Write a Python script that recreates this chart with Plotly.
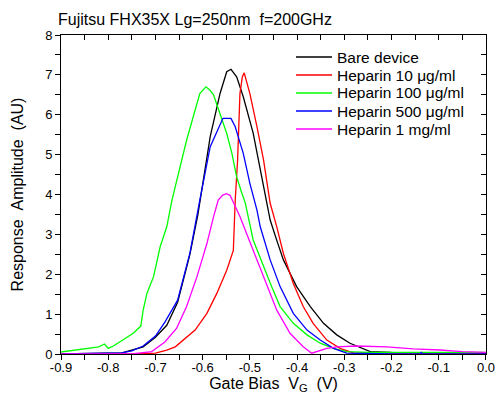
import plotly.graph_objects as go

bare_x = [-0.90, -0.80, -0.771, -0.726, -0.700, -0.676, -0.653, -0.627, -0.610, -0.584, -0.563, -0.549, -0.540, -0.528, -0.514, -0.493, -0.478, -0.465, -0.457, -0.443, -0.429, -0.401, -0.372, -0.344, -0.316, -0.288, -0.260, -0.245, -0.200, -0.100, 0.0]
bare_y = [0.0, 0.01, 0.03, 0.18, 0.42, 0.72, 1.30, 2.50, 3.50, 5.45, 6.54, 7.08, 7.14, 6.95, 6.45, 5.54, 4.60, 3.80, 3.36, 2.85, 2.36, 1.69, 1.19, 0.77, 0.48, 0.27, 0.12, 0.06, 0.04, 0.03, 0.03]

h10_x = [-0.90, -0.75, -0.700, -0.676, -0.658, -0.641, -0.616, -0.591, -0.570, -0.549, -0.535, -0.531, -0.526, -0.521, -0.516, -0.512, -0.500, -0.485, -0.471, -0.457, -0.443, -0.429, -0.408, -0.387, -0.366, -0.337, -0.309, -0.281, -0.200, 0.0]
h10_y = [0.0, 0.0, 0.02, 0.10, 0.18, 0.35, 0.60, 1.02, 1.52, 2.10, 2.60, 3.86, 4.86, 6.53, 6.95, 7.05, 6.53, 5.70, 4.86, 3.78, 3.19, 2.52, 1.77, 1.19, 0.77, 0.35, 0.14, 0.03, 0.02, 0.02]

h100_x = [-0.90, -0.856, -0.820, -0.808, -0.800, -0.789, -0.768, -0.747, -0.731, -0.726, -0.718, -0.704, -0.690, -0.676, -0.665, -0.648, -0.634, -0.620, -0.606, -0.593, -0.585, -0.577, -0.563, -0.549, -0.538, -0.528, -0.517, -0.510, -0.493, -0.471, -0.454, -0.436, -0.408, -0.379, -0.351, -0.323, -0.295, -0.250, -0.100, 0.0]
h100_y = [0.05, 0.12, 0.18, 0.25, 0.14, 0.20, 0.35, 0.52, 0.70, 1.10, 1.52, 1.94, 2.69, 3.19, 3.86, 4.69, 5.36, 5.95, 6.53, 6.70, 6.62, 6.50, 6.03, 5.53, 5.03, 4.44, 4.03, 3.80, 2.86, 2.19, 1.69, 1.19, 0.77, 0.48, 0.27, 0.14, 0.06, 0.04, 0.04, 0.04]

h500_x = [-0.90, -0.80, -0.771, -0.750, -0.726, -0.700, -0.680, -0.653, -0.627, -0.606, -0.584, -0.557, -0.540, -0.531, -0.514, -0.500, -0.485, -0.478, -0.457, -0.436, -0.408, -0.379, -0.351, -0.323, -0.295, -0.200, -0.140, -0.137, -0.134, 0.0]
h500_y = [0.0, 0.01, 0.03, 0.08, 0.20, 0.45, 0.80, 1.35, 2.53, 3.86, 5.20, 5.91, 5.91, 5.70, 5.03, 4.28, 3.61, 3.19, 2.36, 1.69, 1.02, 0.60, 0.35, 0.14, 0.02, 0.0, 0.0, 0.04, 0.0, 0.0]

h1m_x = [-0.90, -0.75, -0.708, -0.680, -0.655, -0.634, -0.612, -0.591, -0.577, -0.567, -0.558, -0.550, -0.542, -0.531, -0.521, -0.507, -0.485, -0.464, -0.443, -0.415, -0.387, -0.369, -0.358, -0.337, -0.316, -0.274, -0.210, -0.154, -0.097, -0.050, 0.0]
h1m_y = [0.0, 0.0, 0.06, 0.30, 0.65, 1.19, 1.94, 2.77, 3.44, 3.86, 3.98, 4.02, 3.98, 3.69, 3.45, 3.02, 2.36, 1.69, 1.10, 0.52, 0.18, 0.02, 0.06, 0.14, 0.18, 0.20, 0.18, 0.13, 0.10, 0.06, 0.04]

x_tick_vals = [-0.9, -0.8, -0.7, -0.6, -0.5, -0.4, -0.3, -0.2, -0.1, 0.0]
x_tick_text = ["-0.9", "-0.8", "-0.7", "-0.6", "-0.5", "-0.4", "-0.3", "-0.2", "-0.1", "0.0"]
y_tick_vals = [0, 1, 2, 3, 4, 5, 6, 7, 8]

names = ["Bare device", "Heparin 10 \u03bcg/ml", "Heparin 100 \u03bcg/ml", "Heparin 500 \u03bcg/ml", "Heparin 1 mg/ml"]
colors = ["#000000", "#ff0000", "#00ff00", "#0000ff", "#ff00ff"]
series = [(bare_x, bare_y), (h10_x, h10_y), (h100_x, h100_y), (h500_x, h500_y), (h1m_x, h1m_y)]

# figure geometry (pixels)
W, H = 495, 403
ML, MR, MT, MB = 61, 9, 35, 49
PW, PH = W - ML - MR, H - MT - MB

def px_x(px):
    return (px - ML) / PW

def px_y(py):
    return (H - MB - py) / PH

font = "Liberation Sans, Arial, sans-serif"

fig = go.Figure()
for (xs, ys), n, c in zip(series, names, colors):
    fig.add_trace(go.Scatter(x=xs, y=ys, mode="lines", name=n, showlegend=False,
                             line=dict(color=c, width=1.3)))
fig.add_trace(go.Scatter(x=[-0.5], y=[-1], xaxis="x2", yaxis="y2", mode="markers",
                         marker=dict(opacity=0), showlegend=False, hoverinfo="skip"))

# legend drawn as line samples + text labels
shapes, annotations = [], []
for i, (n, c) in enumerate(zip(names, colors)):
    yc = px_y(57 + 18 * i)
    shapes.append(dict(type="line", xref="paper", yref="paper", x0=px_x(296), x1=px_x(332),
                       y0=yc, y1=yc, line=dict(color=c, width=1.3)))
    annotations.append(dict(text=n, xref="paper", yref="paper", x=px_x(335), y=yc,
                            xanchor="left", yanchor="middle", showarrow=False,
                            font=dict(size=15.5, family=font, color="black")))

minor_x = dict(tickmode="linear", tick0=-0.9, dtick=0.05, ticklen=5, tickcolor="black")
minor_y = dict(tickmode="linear", tick0=0, dtick=0.5, ticklen=5, tickcolor="black")

fig.update_layout(
    width=W, height=H,
    margin=dict(l=ML, r=MR, t=MT, b=MB, autoexpand=False),
    plot_bgcolor="white", paper_bgcolor="white",
    font=dict(family=font, size=13, color="black"),
    title=dict(text="Fujitsu FHX35X Lg=250nm\u00a0\u00a0f=200GHz", x=58/W, xanchor="left",
               xref="container", y=1-19/H, yanchor="middle", yref="container",
               font=dict(size=16, family=font, color="black")),
    xaxis=dict(range=[-0.9, 0.0001], tickmode="array", tickvals=x_tick_vals, ticktext=x_tick_text,
               automargin=False, ticks="outside", ticklen=5, tickcolor="black", showline=True,
               linecolor="black", linewidth=1, mirror=True, showgrid=False, zeroline=False,
               ticklabelstandoff=-4, minor=dict(ticks="outside", **minor_x),
               title=dict(text="Gate Bias\u00a0\u00a0V<sub>G</sub>\u00a0\u00a0(V)", font=dict(size=16), standoff=2),
               tickfont=dict(size=13)),
    yaxis=dict(range=[0, 8], tickmode="array", tickvals=y_tick_vals, ticks="outside", ticklen=5,
               tickcolor="black", automargin=False, showline=True, linecolor="black", linewidth=1,
               mirror=True, showgrid=False, zeroline=False, minor=dict(ticks="outside", **minor_y),
               title=dict(text="Response\u00a0\u00a0Amplitude\u00a0\u00a0(AU)", font=dict(size=16), standoff=17),
               tickfont=dict(size=13)),
    xaxis2=dict(overlaying="x", side="top", matches="x", tickmode="array", tickvals=x_tick_vals,
                ticks="inside", ticklen=5, tickcolor="black", showticklabels=False,
                showgrid=False, zeroline=False, automargin=False,
                minor=dict(ticks="inside", **minor_x)),
    yaxis2=dict(overlaying="y", side="right", matches="y", tickmode="array", tickvals=y_tick_vals,
                ticks="inside", ticklen=5, tickcolor="black", showticklabels=False,
                showgrid=False, zeroline=False, automargin=False,
                minor=dict(ticks="inside", **minor_y)),
    shapes=shapes,
    annotations=annotations,
    showlegend=False,
)
fig.write_html("out.html", config={"displayModeBar": False},
               post_script="document.body.style.margin='0';")
